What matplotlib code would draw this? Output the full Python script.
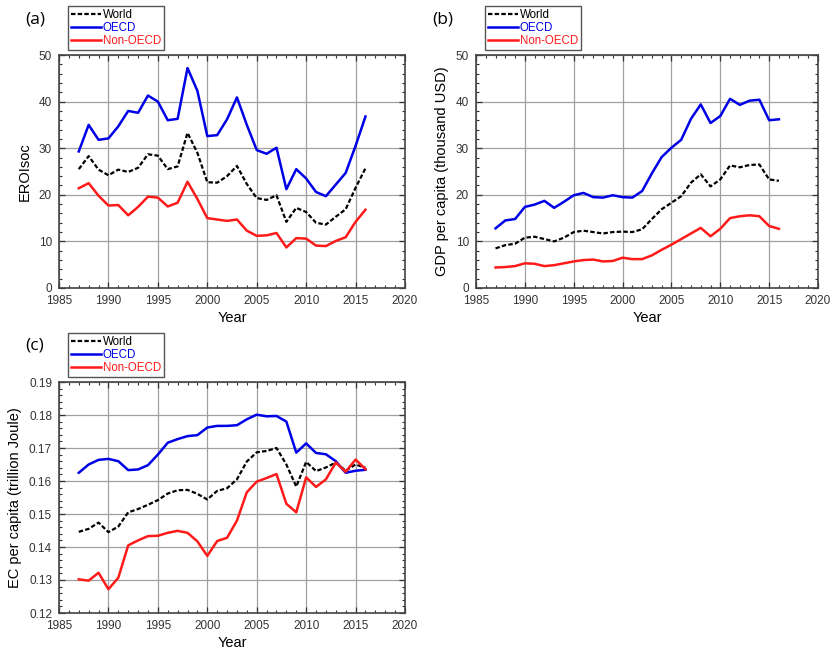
import matplotlib
matplotlib.use("Agg")
from matplotlib import pyplot as plt
from matplotlib.ticker import MultipleLocator
import numpy as np

plt.rcParams['font.family'] = ['Liberation Sans', 'DejaVu Sans']

years = np.arange(1987, 2017)

# (a) EROIsoc
eroi_world = [25.5, 28.3, 25.4, 24.2, 25.4, 24.9, 25.8, 28.7, 28.4, 25.5, 26.1, 33.3, 29.0, 22.7, 22.6,
              24.0, 26.2, 22.3, 19.3, 18.9, 19.9, 14.2, 17.2, 16.3, 14.0, 13.6, 15.3, 16.9, 21.5, 25.7]
eroi_oecd = [29.3, 35.0, 31.8, 32.1, 34.7, 38.0, 37.6, 41.3, 40.0, 36.0, 36.3, 47.2, 42.3, 32.6, 32.8,
             36.2, 40.9, 35.0, 29.6, 28.8, 30.1, 21.2, 25.5, 23.5, 20.6, 19.7, 22.2, 24.7, 30.5, 36.8]
eroi_non = [21.4, 22.5, 19.8, 17.7, 17.8, 15.6, 17.4, 19.6, 19.4, 17.5, 18.3, 22.8, 19.1, 15.0, 14.7,
            14.4, 14.7, 12.3, 11.2, 11.3, 11.8, 8.7, 10.7, 10.6, 9.1, 9.0, 10.1, 10.9, 14.2, 16.8]

# (b) GDP per capita (thousand USD)
gdp_world = [8.5, 9.2, 9.5, 10.8, 11.0, 10.5, 10.0, 10.8, 12.0, 12.3, 12.0, 11.7, 12.0, 12.1, 12.0,
             12.6, 14.8, 16.9, 18.3, 19.7, 22.6, 24.4, 21.8, 23.3, 26.3, 25.9, 26.4, 26.5, 23.3, 23.0]
gdp_oecd = [12.8, 14.5, 14.8, 17.4, 17.9, 18.7, 17.2, 18.5, 19.9, 20.4, 19.5, 19.4, 19.9, 19.5, 19.4,
            20.8, 24.6, 28.1, 30.1, 31.8, 36.3, 39.4, 35.4, 36.9, 40.6, 39.3, 40.2, 40.4, 36.0, 36.2]
gdp_non = [4.4, 4.5, 4.7, 5.3, 5.2, 4.7, 4.9, 5.3, 5.7, 6.0, 6.1, 5.7, 5.8, 6.5, 6.2,
           6.2, 7.0, 8.2, 9.3, 10.5, 11.7, 12.9, 11.1, 12.7, 15.0, 15.4, 15.6, 15.4, 13.3, 12.7]

# (c) EC per capita (trillion Joule)
ec_world = [0.1446, 0.1455, 0.1474, 0.1445, 0.1462, 0.1505, 0.1515, 0.1528, 0.1542, 0.1562,
            0.1572, 0.1573, 0.1561, 0.1544, 0.1570, 0.1578, 0.1605, 0.1659, 0.1687, 0.1691,
            0.1700, 0.1650, 0.1583, 0.1658, 0.1630, 0.1641, 0.1656, 0.1631, 0.1650, 0.1640]
ec_oecd = [0.1625, 0.1650, 0.1664, 0.1667, 0.1660, 0.1633, 0.1635, 0.1648, 0.1680, 0.1716,
           0.1727, 0.1736, 0.1739, 0.1762, 0.1767, 0.1767, 0.1769, 0.1787, 0.1801, 0.1796,
           0.1797, 0.1780, 0.1686, 0.1714, 0.1685, 0.1681, 0.1660, 0.1625, 0.1631, 0.1634]
ec_non = [0.1302, 0.1298, 0.1322, 0.1272, 0.1307, 0.1405, 0.1420, 0.1433, 0.1434, 0.1443,
          0.1449, 0.1443, 0.1417, 0.1373, 0.1418, 0.1428, 0.1480, 0.1566, 0.1598, 0.1609,
          0.1621, 0.1531, 0.1505, 0.1611, 0.1582, 0.1605, 0.1656, 0.1628, 0.1665, 0.1636]

W, H = 833, 655
fig = plt.figure(figsize=(W / 100, H / 100), dpi=100)


def px_axes(x0, y0, x1, y1):
    return fig.add_axes([x0 / W, 1 - y1 / H, (x1 - x0) / W, (y1 - y0) / H])


def make_panel(ax, world, oecd, non, ylim, ystep, yminor, ylabel, tag, legend_xy, tag_xy, yfmt=None):
    ax.plot(years, world, color='black', lw=1.6, ls=(0, (2, 1)), label='World', zorder=3)
    ax.plot(years, oecd, color='#0000e6', lw=1.8, label='OECD', zorder=3)
    ax.plot(years, non, color='#ff1a1a', lw=1.8, label='Non-OECD', zorder=3)
    ax.set_xlim(1985, 2020)
    ax.set_ylim(*ylim)
    ax.xaxis.set_major_locator(MultipleLocator(5))
    ax.xaxis.set_minor_locator(MultipleLocator(1))
    ax.yaxis.set_major_locator(MultipleLocator(ystep))
    ax.yaxis.set_minor_locator(MultipleLocator(yminor))
    if yfmt:
        ax.yaxis.set_major_formatter(yfmt)
    ax.tick_params(which='both', direction='in', top=True, right=True, labelsize=8.5, colors='#333333')
    ax.tick_params(which='major', length=4, width=0.9, pad=5)
    ax.tick_params(which='minor', length=2.5, width=0.8)
    ax.grid(True, which='major', color='#a0a0a0', lw=0.9)
    for s in ax.spines.values():
        s.set_color('#444444')
        s.set_linewidth(1.2)
    ax.set_xlabel('Year', fontsize=10.5, labelpad=3)
    ax.set_ylabel(ylabel, fontsize=10.5, labelpad=5)
    leg = ax.legend(loc='upper left', bbox_to_anchor=(legend_xy[0] / W, 1 - legend_xy[1] / H),
                    bbox_transform=fig.transFigure, borderaxespad=0, fontsize=8.3,
                    handlelength=2.6, handletextpad=0.1, labelspacing=0.05, borderpad=0.3,
                    fancybox=False, framealpha=1, edgecolor='#555555')
    leg.get_frame().set_linewidth(1.0)
    for txt, c in zip(leg.get_texts(), ['black', '#0000e6', '#ff1a1a']):
        txt.set_color(c)
    fig.text(tag_xy[0] / W, 1 - tag_xy[1] / H, tag, fontsize=12.5, family='Open Sans',
             ha='left', va='center')


ax_a = px_axes(59, 55, 405, 288)
make_panel(ax_a, eroi_world, eroi_oecd, eroi_non, (0, 50), 10, 2, 'EROIsoc', '(a)', (68, 6), (25, 20))

ax_b = px_axes(476, 55, 818, 288)
make_panel(ax_b, gdp_world, gdp_oecd, gdp_non, (0, 50), 10, 2, 'GDP per capita (thousand USD)',
           '(b)', (485, 6), (432, 20))

ax_c = px_axes(59, 382, 405, 613)
make_panel(ax_c, ec_world, ec_oecd, ec_non, (0.12, 0.19), 0.01, 0.002, 'EC per capita (trillion Joule)',
           '(c)', (68, 333), (25, 346), yfmt=plt.FormatStrFormatter('%.2f'))

fig.savefig('out.png', dpi=100)
